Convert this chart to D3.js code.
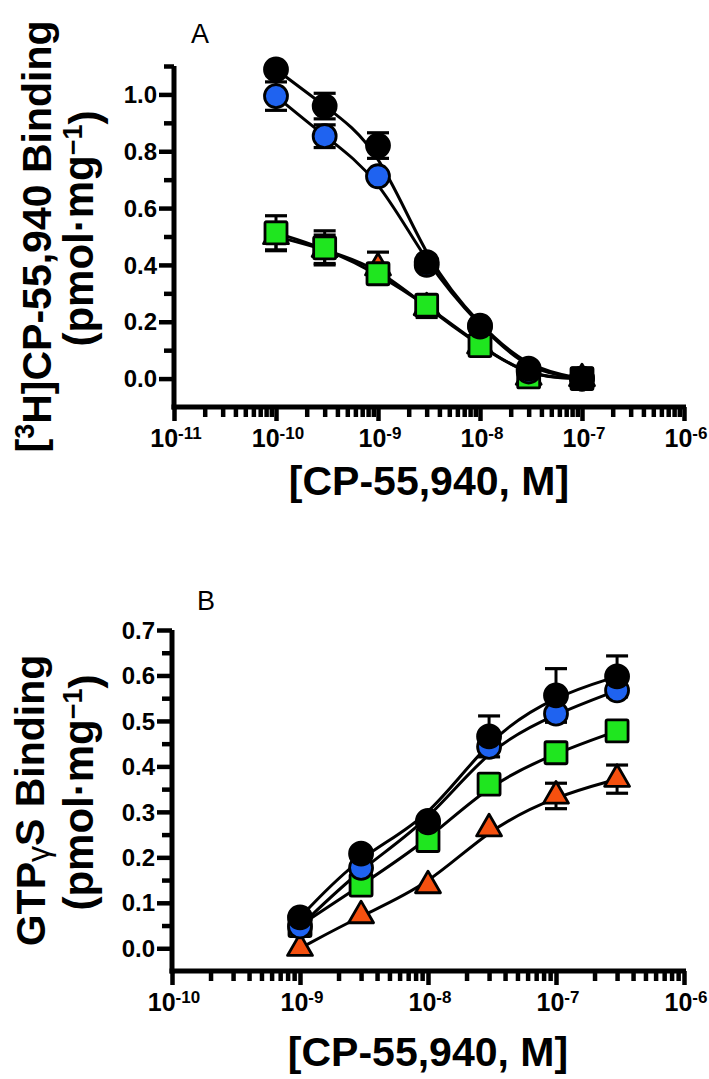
<!DOCTYPE html>
<html><head><meta charset="utf-8">
<script src="https://cdn.jsdelivr.net/npm/d3@7"></script>
<style>body{margin:0;background:#fff}svg{display:block}</style>
</head><body>
<svg id="chart" width="709" height="1079"></svg>
<script>
// ---------- Panel A data: [3H]CP-55,940 binding ----------
const concA = [1e-10, 3e-10, 1e-9, 3e-9, 1e-8, 3e-8, 1e-7];
const aBlack = [1.088, 0.959, 0.82, 0.41, 0.186, 0.035, 0.0];
const aBlackErr = [0, 0.045, 0.045, 0, 0, 0, 0];
const aBlue = [0.994, 0.853, 0.712, 0.40, 0.183, 0.025, 0.0];
const aBlueErr = [0.05, 0.04, 0, 0, 0, 0, 0];
const aGreen = [0.513, 0.46, 0.369, 0.258, 0.116, 0.006, 0.0];
const aGreenErr = [0.06, 0.06, 0, 0, 0, 0, 0];
const aRed = [0.50, 0.455, 0.39, 0.25, 0.115, 0.005, 0.0];
const aRedErr = [0.05, 0.05, 0.055, 0.035, 0, 0, 0];
const aEndConc = [1e-7];
const aEndVal = [0.0];
const aYTicks = [0, 0.2, 0.4, 0.6, 0.8, 1.0];
const aYMinor = [0.1, 0.3, 0.5, 0.7, 0.9, 1.1];
const aXExp = [-11, -10, -9, -8, -7, -6];

// ---------- Panel B data: GTPγS binding ----------
const concB = [1e-9, 3e-9, 1e-8, 3e-8, 1e-7, 3e-7];
const bBlack = [0.068, 0.208, 0.28, 0.466, 0.556, 0.598];
const bBlackErr = [0, 0, 0, 0.045, 0.059, 0.045];
const bBlue = [0.048, 0.177, 0.277, 0.443, 0.516, 0.567];
const bBlueErr = [0, 0, 0, 0, 0, 0];
const bGreen = [0.05, 0.139, 0.237, 0.361, 0.43, 0.478];
const bGreenErr = [0, 0, 0, 0, 0, 0];
const bRed = [0.0, 0.072, 0.138, 0.263, 0.335, 0.372];
const bRedErr = [0, 0, 0, 0, 0.028, 0.031];
const bYTicks = [0, 0.1, 0.2, 0.3, 0.4, 0.5, 0.6, 0.7];
const bYMinor = [0.05, 0.15, 0.25, 0.35, 0.45, 0.55, 0.65];
const bXExp = [-10, -9, -8, -7, -6];

const COLORS = {black: "#000000", blue: "#1f63f0", green: "#1fe61f", red: "#f5500f"};
const FONT = "'Liberation Sans', Arial, Helvetica, sans-serif";

const svg = d3.select("#chart");

function series(conc, vals, errs, color, shape) {
  return {color, shape, pts: conc.map((c, i) => ({c, v: vals[i], e: errs[i]}))};
}

function drawPanel(cfg) {
  const g = svg.append("g");
  const x = d3.scaleLog().domain(cfg.xDomain).range(cfg.xRange);
  const y = d3.scaleLinear().domain(cfg.yDomain).range(cfg.yRange);
  const x0 = cfg.xRange[0], yBase = cfg.yRange[0];

  g.append("g").attr("transform", `translate(${x0},0)`)
    .call(d3.axisLeft(y).tickValues(cfg.yTicks).tickSize(15).tickSizeOuter(0).tickFormat(""));
  g.append("g").attr("transform", `translate(${x0},0)`)
    .call(d3.axisLeft(y).tickValues(cfg.yMinor).tickSize(10).tickSizeOuter(0).tickFormat(""));
  const majors = cfg.xExp.map(e => Math.pow(10, e));
  g.append("g").attr("transform", `translate(0,${yBase})`)
    .call(d3.axisBottom(x).tickValues(majors).tickSize(14).tickSizeOuter(0).tickFormat(""));
  const minors = x.ticks().filter(t => {
    const m = Math.round(t / Math.pow(10, Math.floor(Math.log10(t) + 1e-9)));
    return m !== 1;
  });
  g.append("g").attr("transform", `translate(0,${yBase})`)
    .call(d3.axisBottom(x).tickValues(minors).tickSize(10).tickSizeOuter(0).tickFormat(""));
  g.selectAll(".domain").remove();
  g.selectAll(".tick line").attr("stroke", "#000").attr("stroke-width", 4.5);
  g.append("line").attr("x1", x0).attr("x2", x0)
    .attr("y1", cfg.yRange[1]).attr("y2", yBase + 2.5)
    .attr("stroke", "#000").attr("stroke-width", 5);
  g.append("line").attr("x1", x0 - 2.5).attr("x2", cfg.xRange[1] + 2)
    .attr("y1", yBase).attr("y2", yBase)
    .attr("stroke", "#000").attr("stroke-width", 5);

  g.selectAll(".ylab").data(cfg.yTicks).enter().append("text")
    .attr("x", x0 - 17).attr("y", d => y(d)).attr("dy", "0.36em")
    .attr("text-anchor", "end").attr("font-family", FONT).attr("font-weight", "bold")
    .attr("font-size", 24).text(d => d.toFixed(1));
  const xl = g.selectAll(".xlab").data(cfg.xExp).enter().append("text")
    .attr("x", d => x(Math.pow(10, d)) + 2).attr("y", yBase + 40)
    .attr("text-anchor", "middle").attr("font-family", FONT).attr("font-weight", "bold")
    .attr("font-size", 25);
  xl.append("tspan").text("10");
  xl.append("tspan").attr("dy", "-0.45em").attr("font-size", 17).text(d => "-" + Math.abs(d));

  g.append("text").attr("x", cfg.letterX).attr("y", cfg.letterY)
    .attr("text-anchor", "middle").attr("font-family", FONT).attr("font-size", 27)
    .text(cfg.letter);

  g.append("text").attr("x", (cfg.xRange[0] + cfg.xRange[1]) / 2).attr("y", cfg.xTitleY)
    .attr("text-anchor", "middle").attr("font-family", FONT).attr("font-weight", "bold")
    .attr("font-size", 41).text("[CP-55,940, M]");

  const yc = (cfg.yRange[0] + cfg.yRange[1]) / 2;
  const t1 = g.append("text").attr("transform", `translate(45,${yc}) rotate(-90)`)
    .attr("text-anchor", "middle").attr("font-family", FONT).attr("font-weight", "bold")
    .attr("font-size", 41);
  cfg.yTitle1(t1);
  const t2 = g.append("text").attr("transform", `translate(93,${yc - 8}) rotate(-90)`)
    .attr("text-anchor", "middle").attr("font-family", FONT).attr("font-weight", "bold")
    .attr("font-size", 42);
  t2.append("tspan").text("(pmol\u00B7mg");
  t2.append("tspan").attr("dy", "-0.42em").attr("font-size", 27).text("\u22121");
  t2.append("tspan").attr("dy", "0.42em").text(")");

  const line = d3.line().x(d => x(d.c)).y(d => y(d.v)).curve(d3.curveBasis);
  cfg.series.forEach(s => {
    g.append("path").attr("d", line(s.pts)).attr("fill", "none")
      .attr("stroke", "#000").attr("stroke-width", 3);
  });

  const capW = 11;
  cfg.series.forEach(s => {
    s.pts.filter(p => p.e > 0).forEach(p => {
      const cx = x(p.c);
      g.append("line").attr("x1", cx).attr("x2", cx).attr("y1", y(p.v - p.e)).attr("y2", y(p.v + p.e))
        .attr("stroke", "#000").attr("stroke-width", 3);
      [p.v - p.e, p.v + p.e].forEach(v => {
        g.append("line").attr("x1", cx - capW).attr("x2", cx + capW).attr("y1", y(v)).attr("y2", y(v))
          .attr("stroke", "#000").attr("stroke-width", 3.2);
      });
    });
  });

  cfg.series.forEach(s => {
    s.pts.forEach(p => {
      const cx = x(p.c), cy = y(p.v);
      if (s.shape === "circle") {
        g.append("circle").attr("cx", cx).attr("cy", cy).attr("r", 11.5)
          .attr("fill", s.color).attr("stroke", "#000").attr("stroke-width", 2.8);
      } else if (s.shape === "square") {
        g.append("rect").attr("x", cx - 11).attr("y", cy - 11).attr("width", 22).attr("height", 22)
          .attr("rx", 1.5).attr("fill", s.color).attr("stroke", "#000").attr("stroke-width", 2.8);
      } else {
        g.append("path").attr("d", d3.symbol().type(d3.symbolTriangle).size(270)())
          .attr("transform", `translate(${cx},${cy})`)
          .attr("fill", s.color).attr("stroke", "#000").attr("stroke-width", 2.8)
          .attr("stroke-linejoin", "round");
      }
    });
  });
  if (cfg.extra) {
    cfg.extra.conc.forEach((c, i) => {
      const cx = x(c), cy = y(cfg.extra.vals[i]);
      g.append("rect").attr("x", cx - 12).attr("y", cy - 12).attr("width", 24).attr("height", 24)
        .attr("rx", 2).attr("fill", "#000");
    });
  }
}

drawPanel({
  xDomain: [1e-11, 1e-6], xRange: [174, 684],
  yDomain: [-0.1, 1.1], yRange: [407, 66],
  yTicks: aYTicks, yMinor: aYMinor, xExp: aXExp,
  letter: "A", letterX: 200, letterY: 43, xTitleY: 495,
  yTitle1: t => {
    t.append("tspan").text("[");
    t.append("tspan").attr("dy", "-0.42em").attr("font-size", 27).text("3");
    t.append("tspan").attr("dy", "0.42em").text("H]CP-55,940 Binding");
  },
  series: [
    series(concA, aRed, aRedErr, COLORS.red, "triangle"),
    series(concA, aGreen, aGreenErr, COLORS.green, "square"),
    series(concA, aBlue, aBlueErr, COLORS.blue, "circle"),
    series(concA, aBlack, aBlackErr, COLORS.black, "circle")
  ],
  extra: {conc: aEndConc, vals: aEndVal}
});

drawPanel({
  xDomain: [1e-10, 1e-6], xRange: [172, 684],
  yDomain: [-0.05, 0.7], yRange: [971, 630],
  yTicks: bYTicks, yMinor: bYMinor, xExp: bXExp,
  letter: "B", letterX: 206, letterY: 610, xTitleY: 1066,
  yTitle1: t => {
    t.append("tspan").text("GTP");
    t.append("tspan").attr("dy", "0.12em").attr("font-size", 32).attr("font-weight", "normal").text("\u03B3");
    t.append("tspan").attr("dy", "-0.12em").text("S Binding");
  },
  series: [
    series(concB, bRed, bRedErr, COLORS.red, "triangle"),
    series(concB, bGreen, bGreenErr, COLORS.green, "square"),
    series(concB, bBlue, bBlueErr, COLORS.blue, "circle"),
    series(concB, bBlack, bBlackErr, COLORS.black, "circle")
  ]
});
</script>
</body></html>
